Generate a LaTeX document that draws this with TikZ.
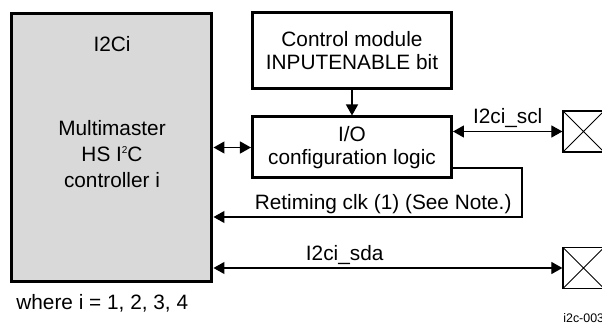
\documentclass[tikz,border=0pt]{standalone}
\usepackage{fontspec}
\setmainfont{Liberation Sans}
\usetikzlibrary{arrows.meta,positioning}
\definecolor{ctrlgray}{HTML}{D9D9D9}

\begin{document}
\begin{tikzpicture}[
  x=0.5pt, y=-0.5pt,
  font=\fontsize{10.4}{11.5}\selectfont,
  block/.style={rectangle, draw=black, line width=1.5pt, fill=white,
                minimum width=99.5pt, align=center, inner sep=0pt},
  ctrlblock/.style={block, fill=ctrlgray, minimum width=100pt, minimum height=134pt},
  pad/.style={rectangle, draw=black, line width=0.6pt, minimum size=20.5pt, inner sep=0pt,
              path picture={\draw[line width=0.5pt]
                (path picture bounding box.north west) -- (path picture bounding box.south east)
                (path picture bounding box.south west) -- (path picture bounding box.north east);}},
  lbl/.style={inner sep=1.5pt},
  arr/.style={-{Triangle[length=5.5pt,width=6pt]}, line width=0.6pt},
  darr/.style={{Triangle[length=5.5pt,width=6pt]}-{Triangle[length=5.5pt,width=6pt]}, line width=0.6pt},
]
  \useasboundingbox (0,0) rectangle (602,326);
  \clip (0,0) rectangle (602,326);

  \node[ctrlblock] (i2c) at (112,148) {};
  \node (i2ctitle) at (112,44) {I2Ci};
  \node[align=center, font=\fontsize{10.4}{13}\selectfont] (i2cmain) at (112,154)
    {Multimaster\\ HS I\raisebox{0.75ex}{\fontsize{5}{5}\selectfont 2}C\\ controller i};

  \node[block, minimum height=38pt] (ctrlmod) at (352,51) {Control module\\ INPUTENABLE bit};
  \node[block, minimum height=30.5pt] (iolog) at (352,147.5) {I/O\\ configuration logic};

  \node[pad] (sclpad) at (583.5,131.5) {};
  \node[pad] (sdapad) at (583.5,268) {};
  \coordinate (clkturn) at (522,217);

  \draw[arr] (ctrlmod) -- (iolog);
  \draw[darr] (i2c.east |- iolog.west) -- (iolog.west);
  \draw[darr] (sclpad.west -| iolog.east) -- node[lbl, above]{I2ci\_scl} (sclpad.west);
  \draw[arr] ([yshift=-10.25pt]iolog.east) -| (clkturn)
    -- node[lbl, above, pos=0.45]{Retiming clk (1) (See Note.)} (clkturn -| i2c.east);
  \draw[darr] (i2c.east |- sdapad.west) -- node[lbl, above, pos=0.376]{I2ci\_sda} (sdapad.west);

  \node[anchor=west, inner sep=0pt] (wherenote) at (16,303) {where i = 1, 2, 3, 4};
  \node[anchor=west, inner sep=0pt, font=\fontsize{6.2}{7}\selectfont] (figid) at (563,318) {i2c-003};
\end{tikzpicture}
\end{document}
